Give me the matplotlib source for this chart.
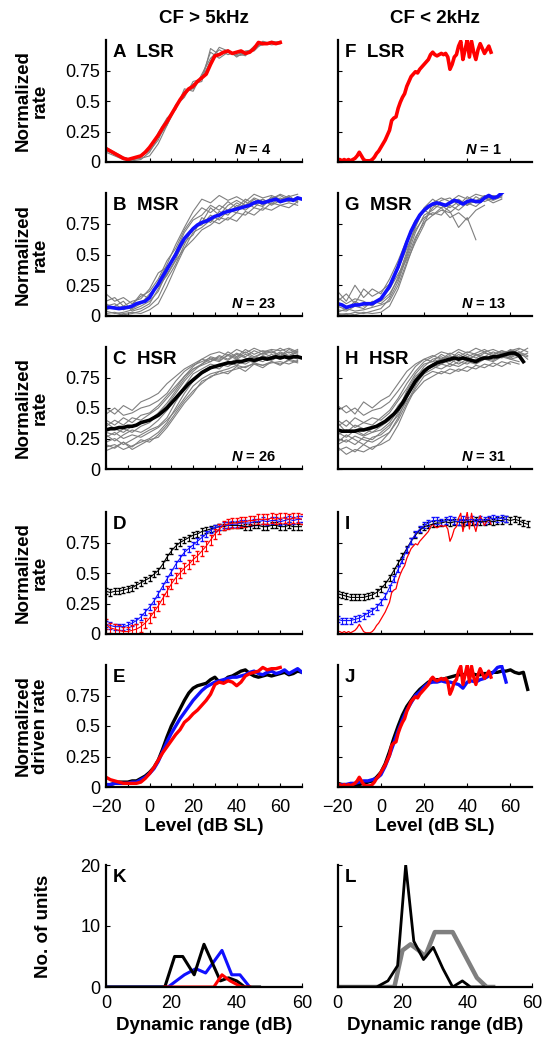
import matplotlib
matplotlib.use("Agg")
import matplotlib.pyplot as plt
import numpy as np

plt.rcParams['font.family'] = ['Liberation Sans', 'DejaVu Sans']
plt.rcParams['font.size'] = 13
plt.rcParams['mathtext.fontset'] = 'custom'
plt.rcParams['mathtext.it'] = 'Liberation Sans:italic:bold'
plt.rcParams['mathtext.rm'] = 'Liberation Sans:bold'

# level grids (dB SL)
MX = np.arange(-20, 71, 2)      # mean curves
GX = np.arange(-20, 69, 4)      # individual units (gray)
FX = np.arange(-20, 52, 1)      # single low-CF LSR unit

# ---- A: LSR, CF > 5 kHz
a_mean = [0.11, 0.09, 0.07, 0.05, 0.03, 0.02, 0.03, 0.04, 0.05, 0.08, 0.12, 0.17, 0.22, 0.28, 0.33,
          0.39, 0.45, 0.51, 0.56, 0.60, 0.62, 0.66, 0.69, 0.72, 0.80, 0.87, 0.88, 0.90, 0.91, 0.89,
          0.90, 0.91, 0.89, 0.90, 0.93, 0.98, 0.97, 0.97, 0.98, 0.97, 0.98]
a_units = [
    [0.08, 0.05, 0.02, 0.01, 0.02, 0.08, 0.20, 0.30, 0.44, 0.58, 0.60, 0.70, 0.90, 0.85, 0.90, 0.87, 0.88, 0.95, 0.97, 0.98, 0.97],
    [0.10, 0.06, 0.03, 0.02, 0.03, 0.05, 0.15, 0.30, 0.47, 0.55, 0.64, 0.66, 0.93, 0.88, 0.92, 0.86, 0.91, 0.92, 0.99, 0.97, 0.99],
    [0.12, 0.08, 0.04, 0.02, 0.04, 0.10, 0.24, 0.36, 0.43, 0.60, 0.58, 0.72, 0.85, 0.92, 0.88, 0.90, 0.87, 0.94, 0.96, 0.99, 0.98],
    [0.09, 0.07, 0.02, 0.03, 0.05, 0.09, 0.18, 0.34, 0.46, 0.53, 0.66, 0.68, 0.83, 0.94, 0.91, 0.88, 0.90, 0.91, 0.98, 0.96, 0.97],
]

# ---- B: MSR, CF > 5 kHz
b_mean = [0.07, 0.07, 0.065, 0.06, 0.065, 0.07, 0.08, 0.10, 0.11, 0.12, 0.15, 0.21, 0.26, 0.32, 0.38,
          0.44, 0.50, 0.57, 0.63, 0.67, 0.71, 0.74, 0.76, 0.77, 0.79, 0.81, 0.82, 0.84, 0.85, 0.86,
          0.87, 0.88, 0.89, 0.90, 0.92, 0.93, 0.92, 0.93, 0.94, 0.95, 0.93, 0.94, 0.95, 0.94, 0.96, 0.95]
b_units = [
    [.18, .12, .15, .10, .16, .20, .30, .45, .55, .70, .80, .88, .84, .90, .86, .92, .88, .95, .90, .97, .92, .96, .94],
    [.02, .03, .01, .02, .04, .08, .15, .30, .42, .58, .72, .74, .82, .78, .86, .84, .93, .88, .95, .91, .96, .93, .97],
    [.10, .06, .08, .12, .14, .22, .35, .40, .48, .60, .66, .80, .76, .85, .82, .90, .86, .92, .95, .90, .94, .98, .92],
    [.04, .02, .03, .05, .08, .12, .20, .36, .52, .68, .78, .82, .90, .86, .93, .88, .95, .91, .89, .96, .98, .94, .95],
    [.12, .15, .08, .06, .10, .18, .24, .33, .45, .55, .62, .70, .74, .80, .78, .84, .82, .88, .86, .92, .90, .88, .93],
    [.01, .00, .02, .03, .02, .05, .10, .24, .40, .55, .68, .72, .78, .75, .80, .77, .85, .82, .88, .86, .90, .92, .90],
    [.08, .10, .05, .09, .18, .14, .28, .42, .58, .72, .85, .95, .92, .98, .94, .97, .93, .99, .96, .98, .95, .97, .99],
    [.05, .08, .12, .04, .06, .10, .22, .34, .46, .62, .70, .76, .88, .82, .90, .94, .90, .96, .93, .95, .99, .96, .93],
]

# ---- C: HSR, CF > 5 kHz
c_mean = [0.32, 0.33, 0.33, 0.34, 0.34, 0.35, 0.35, 0.36, 0.38, 0.39, 0.40, 0.42, 0.44, 0.47, 0.50,
          0.54, 0.58, 0.62, 0.66, 0.70, 0.73, 0.76, 0.79, 0.81, 0.83, 0.84, 0.85, 0.86, 0.87, 0.87,
          0.88, 0.88, 0.89, 0.90, 0.89, 0.90, 0.91, 0.90, 0.91, 0.92, 0.91, 0.92, 0.91, 0.92, 0.92, 0.91]
c_units = [
    [.50, .45, .52, .48, .55, .58, .62, .70, .76, .82, .86, .90, .88, .93, .90, .95, .92, .97, .94, .96, .93, .98, .95],
    [.18, .20, .16, .19, .22, .25, .30, .38, .50, .62, .72, .80, .84, .82, .88, .85, .90, .87, .91, .89, .93, .90, .92],
    [.30, .28, .33, .30, .35, .38, .45, .52, .62, .72, .80, .86, .90, .88, .94, .91, .96, .92, .95, .97, .93, .96, .94],
    [.22, .25, .20, .24, .28, .32, .35, .42, .55, .66, .74, .78, .82, .86, .84, .88, .86, .90, .88, .92, .90, .93, .91],
    [.40, .36, .42, .38, .44, .46, .52, .60, .68, .76, .82, .85, .88, .92, .89, .94, .91, .88, .93, .90, .95, .92, .96],
    [.26, .30, .25, .28, .26, .30, .34, .40, .48, .58, .68, .74, .78, .80, .82, .85, .83, .87, .85, .88, .86, .89, .87],
    [.35, .40, .36, .42, .40, .45, .50, .58, .66, .76, .84, .90, .94, .96, .93, .98, .95, .99, .96, .98, .97, .99, .96],
    [.20, .17, .22, .18, .24, .22, .28, .36, .46, .56, .64, .70, .76, .78, .80, .82, .84, .86, .85, .87, .88, .86, .89],
    [.45, .50, .44, .46, .50, .52, .56, .62, .72, .80, .85, .88, .91, .89, .93, .90, .94, .91, .95, .92, .96, .93, .97],
    [.28, .23, .28, .32, .30, .34, .40, .48, .58, .68, .78, .82, .86, .84, .87, .90, .88, .92, .90, .94, .91, .93, .90],
    [.15, .18, .22, .16, .20, .24, .26, .34, .44, .54, .62, .72, .75, .80, .78, .84, .80, .86, .83, .88, .85, .90, .88],
    [.38, .33, .30, .35, .38, .40, .46, .54, .64, .74, .82, .86, .92, .90, .96, .92, .98, .94, .97, .95, .99, .95, .98],
]

# ---- D: means with error bars, CF > 5 kHz
d_hsr = [0.35, 0.34, 0.35, 0.35, 0.36, 0.37, 0.38, 0.40, 0.42, 0.44, 0.46, 0.49, 0.52, 0.57, 0.63,
         0.68, 0.72, 0.75, 0.77, 0.79, 0.81, 0.82, 0.84, 0.85, 0.86, 0.87, 0.88, 0.88, 0.89, 0.89,
         0.89, 0.89, 0.88, 0.88, 0.89, 0.89, 0.88, 0.88, 0.89, 0.89, 0.88, 0.88, 0.89, 0.88, 0.88, 0.88]
d_msr = [0.08, 0.07, 0.06, 0.06, 0.06, 0.07, 0.09, 0.11, 0.14, 0.18, 0.22, 0.27, 0.33, 0.39, 0.45,
         0.51, 0.57, 0.62, 0.67, 0.70, 0.73, 0.76, 0.79, 0.82, 0.85, 0.87, 0.88, 0.89, 0.89, 0.90,
         0.90, 0.91, 0.91, 0.91, 0.92, 0.92, 0.93, 0.92, 0.93, 0.93, 0.92, 0.93, 0.94, 0.93, 0.94, 0.94]
d_lsr = [0.08, 0.05, 0.04, 0.03, 0.02, 0.02, 0.03, 0.04, 0.06, 0.09, 0.13, 0.18, 0.23, 0.29, 0.35,
         0.41, 0.46, 0.50, 0.54, 0.57, 0.61, 0.64, 0.68, 0.72, 0.77, 0.82, 0.86, 0.89, 0.90, 0.91,
         0.91, 0.92, 0.92, 0.93, 0.93, 0.94, 0.94, 0.94, 0.95, 0.94, 0.95, 0.95, 0.94, 0.95, 0.95, 0.94]

# ---- E: normalized driven rate, CF > 5 kHz
e_hsr = [0.01, 0.02, 0.03, 0.04, 0.04, 0.04, 0.05, 0.05, 0.07, 0.09, 0.12, 0.16, 0.22, 0.31, 0.41,
         0.50, 0.57, 0.64, 0.71, 0.77, 0.81, 0.83, 0.84, 0.85, 0.88, 0.90, 0.86, 0.87, 0.90, 0.91,
         0.93, 0.95, 0.96, 0.93, 0.91, 0.90, 0.91, 0.92, 0.91, 0.92, 0.93, 0.94, 0.92, 0.93, 0.95, 0.94]
e_msr = [0.02, 0.02, 0.03, 0.03, 0.03, 0.03, 0.04, 0.04, 0.06, 0.08, 0.11, 0.15, 0.21, 0.29, 0.37,
         0.44, 0.50, 0.56, 0.61, 0.66, 0.71, 0.75, 0.79, 0.82, 0.84, 0.86, 0.87, 0.88, 0.89, 0.90,
         0.90, 0.91, 0.92, 0.94, 0.95, 0.93, 0.92, 0.94, 0.95, 0.93, 0.94, 0.96, 0.93, 0.95, 0.97, 0.94]
e_lsr = [0.08, 0.06, 0.05, 0.04, 0.03, 0.03, 0.03, 0.03, 0.04, 0.07, 0.11, 0.16, 0.22, 0.28, 0.33,
         0.38, 0.43, 0.47, 0.53, 0.56, 0.60, 0.63, 0.67, 0.71, 0.76, 0.84, 0.86, 0.85, 0.87, 0.86,
         0.83, 0.86, 0.91, 0.93, 0.94, 0.95, 0.98, 0.96, 0.97, 0.97, 0.98]

# ---- F: LSR, CF < 2 kHz (single unit)
f_lsr = [0.02, 0.02, 0.01, 0.02, 0.01, 0.02, 0.01, 0.02, 0.03, 0.05, 0.08, 0.05, 0.02, 0.01, 0.01,
         0.01, 0.02, 0.04, 0.07, 0.09, 0.12, 0.15, 0.18, 0.22, 0.26, 0.34, 0.36, 0.37, 0.44, 0.49,
         0.53, 0.56, 0.62, 0.66, 0.70, 0.72, 0.74, 0.73, 0.76, 0.78, 0.80, 0.82, 0.84, 0.88, 0.90,
         0.88, 0.87, 0.88, 0.89, 0.88, 0.89, 0.86, 0.76, 0.80, 0.86, 0.88, 0.95, 0.99, 0.84, 0.92,
         1.00, 0.86, 0.99, 0.90, 0.84, 0.92, 0.97, 0.93, 0.89, 0.92, 0.95, 0.90]

# ---- G: MSR, CF < 2 kHz
g_mean = [0.10, 0.09, 0.07, 0.08, 0.09, 0.09, 0.10, 0.10, 0.10, 0.12, 0.14, 0.19, 0.24, 0.32, 0.40,
          0.50, 0.60, 0.69, 0.76, 0.82, 0.86, 0.89, 0.91, 0.92, 0.91, 0.90, 0.92, 0.94, 0.93, 0.91,
          0.93, 0.94, 0.93, 0.93, 0.96, 0.98, 0.96, 0.97, 1.00]
g_units = [
    [.20, .12, .25, .15, .22, .18, .30, .45, .62, .78, .85, .90, .88, .92, .95, .90, .97, .93, .96, .98],
    [.02, .01, .03, .02, .04, .06, .14, .28, .48, .68, .82, .86, .92, .88, .93, .90, .94, .96, .92, .95],
    [.08, .05, .12, .08, .10, .12, .18, .30, .50, .72, .88, .95, .90, .85, .72, .80, .62],
    [.12, .18, .10, .22, .16, .20, .26, .38, .55, .70, .80, .84, .82, .90, .86, .92, .89, .95, .98, .96],
    [.01, .02, .01, .03, .02, .03, .08, .22, .42, .62, .78, .88, .94, .96, .90, .97, .93, .98, .95, .99],
    [.05, .04, .08, .06, .12, .10, .16, .32, .52, .74, .86, .82, .88, .80, .84, .78, .86, .90],
    [.15, .10, .14, .12, .08, .15, .22, .34, .46, .64, .76, .82, .86, .84, .90, .94, .92, .96, .94, .97],
    [.03, .06, .04, .05, .07, .09, .12, .25, .44, .60, .74, .92, .96, .93, .98, .95, .99, .97, .95, .98],
]

# ---- H: HSR, CF < 2 kHz
h_mean = [0.32, 0.31, 0.31, 0.31, 0.31, 0.32, 0.32, 0.33, 0.34, 0.35, 0.37, 0.39, 0.42, 0.45, 0.49,
          0.54, 0.60, 0.66, 0.72, 0.76, 0.80, 0.83, 0.85, 0.87, 0.88, 0.89, 0.90, 0.91, 0.90, 0.91,
          0.90, 0.89, 0.88, 0.90, 0.91, 0.91, 0.92, 0.92, 0.93, 0.94, 0.95, 0.95, 0.93, 0.88]
h_units = [
    [.48, .52, .45, .55, .50, .56, .60, .70, .80, .86, .90, .88, .94, .90, .96, .92, .95, .98, .94, .97, .93, .96, .90],
    [.15, .18, .14, .20, .16, .22, .30, .42, .58, .72, .80, .84, .82, .86, .84, .88, .86, .90, .88, .92, .90, .88],
    [.30, .26, .32, .28, .33, .36, .42, .50, .62, .74, .84, .90, .92, .88, .94, .90, .93, .96, .92, .95, .97, .94, .92],
    [.22, .28, .24, .20, .26, .28, .34, .46, .60, .70, .78, .82, .86, .84, .88, .86, .90, .92, .89, .93, .91, .95],
    [.40, .35, .42, .38, .36, .42, .48, .58, .70, .80, .88, .92, .96, .94, .98, .95, .99, .96, .98, .95, .97, .99, .96],
    [.18, .12, .16, .14, .18, .20, .24, .36, .52, .66, .76, .80, .78, .82, .80, .84, .82, .86, .84, .88, .86],
    [.35, .40, .34, .38, .42, .40, .46, .56, .66, .78, .86, .88, .90, .93, .89, .92, .88, .90, .93, .91, .94, .92, .95],
    [.25, .22, .27, .24, .22, .26, .30, .40, .54, .68, .80, .86, .88, .92, .90, .94, .91, .95, .93, .97, .95, .98],
    [.52, .46, .50, .44, .48, .50, .55, .64, .74, .84, .90, .93, .90, .95, .92, .96, .94, .92, .96, .93, .98, .95, .99],
    [.20, .24, .20, .26, .24, .30, .36, .44, .56, .64, .72, .76, .80, .78, .82, .80, .85, .83, .87, .84, .88, .86],
    [.28, .32, .30, .27, .30, .32, .38, .48, .64, .76, .82, .86, .90, .86, .92, .88, .94, .90, .92, .95, .92, .96, .93],
    [.38, .30, .36, .33, .30, .35, .40, .52, .60, .70, .80, .84, .86, .90, .86, .90, .88, .92, .90, .94, .90, .92],
]

# ---- I: means with error bars, CF < 2 kHz
i_hsr = [0.33, 0.32, 0.31, 0.30, 0.30, 0.30, 0.30, 0.31, 0.32, 0.34, 0.37, 0.41, 0.46, 0.52, 0.58,
         0.64, 0.70, 0.76, 0.81, 0.85, 0.88, 0.89, 0.90, 0.91, 0.91, 0.92, 0.91, 0.92, 0.92, 0.91,
         0.92, 0.92, 0.93, 0.92, 0.92, 0.93, 0.92, 0.93, 0.93, 0.94, 0.93, 0.94, 0.93, 0.91, 0.90]
i_msr = [0.12, 0.11, 0.11, 0.11, 0.12, 0.13, 0.15, 0.17, 0.19, 0.22, 0.26, 0.31, 0.38, 0.45, 0.53,
         0.61, 0.69, 0.76, 0.82, 0.86, 0.89, 0.91, 0.93, 0.93, 0.92, 0.93, 0.94, 0.93, 0.92, 0.94,
         0.93, 0.94, 0.92, 0.94, 0.93, 0.94, 0.95, 0.94, 0.95, 0.94]

# ---- J: normalized driven rate, CF < 2 kHz
j_hsr = [0.03, 0.02, 0.02, 0.02, 0.01, 0.02, 0.03, 0.04, 0.05, 0.08, 0.12, 0.19, 0.29, 0.40, 0.50,
         0.59, 0.66, 0.71, 0.76, 0.80, 0.83, 0.86, 0.87, 0.88, 0.88, 0.89, 0.90, 0.91, 0.92, 0.92,
         0.93, 0.93, 0.92, 0.92, 0.93, 0.93, 0.94, 0.94, 0.95, 0.95, 0.96, 0.94, 0.93, 0.94, 0.80]
j_msr = [0.01, 0.02, 0.02, 0.03, 0.03, 0.04, 0.05, 0.05, 0.06, 0.07, 0.10, 0.17, 0.26, 0.36, 0.46,
         0.55, 0.63, 0.69, 0.75, 0.78, 0.82, 0.85, 0.86, 0.86, 0.87, 0.86, 0.86, 0.85, 0.84, 0.81,
         0.86, 0.87, 0.86, 0.88, 0.89, 0.91, 0.94, 0.98, 0.99, 0.86]

# ---- K, L: dynamic range histograms
k_range_hsr = [0, 18, 21, 23.5, 27, 30, 32.5, 35, 37.5, 40, 42.5, 47]
k_count_hsr = [0, 0, 5, 5, 2, 7, 4, 1, 1.5, 1, 0, 0]
k_range_msr = [0, 19, 24, 27.5, 30.5, 35.5, 38.5, 41, 44]
k_count_msr = [0, 0, 2, 3, 2.3, 6, 2, 2, 0]
k_range_lsr = [18, 33, 35.5, 38, 41.5, 44]
k_count_lsr = [0, 0, 2, 1, 0, 0]

l_range_hsr = [0, 12, 15.5, 18.5, 21, 23.5, 26.5, 29.5, 32.5, 35.5, 38.5, 41, 45]
l_count_hsr = [0, 0, 1, 3.5, 20, 7.5, 4.5, 6.5, 3, 0, 1, 0, 0]
l_range_all = [0, 17.5, 20, 22.5, 25, 27, 30, 35.5, 38.5, 43, 46, 48]
l_count_all = [0, 0, 6, 7, 6, 5, 9, 9, 6, 1.5, 0, 0]

RED = '#ff0000'
BLUE = '#1010ff'
GRAY = '#7f7f7f'

fig = plt.figure(figsize=(5.49, 10.49), dpi=100)
W, H = 549.0, 1049.0
cols = [(106, 302), (337.7, 532)]
rows = [(40, 162), (193, 316), (347, 469), (512, 634), (665, 787), (865, 987)]


def make_ax(r, c):
    x0, x1 = cols[c]
    t, b = rows[r]
    ax = fig.add_axes([x0 / W, 1 - b / H, (x1 - x0) / W, (b - t) / H])
    for s in ['top', 'right']:
        ax.spines[s].set_visible(False)
    for s in ['left', 'bottom']:
        ax.spines[s].set_linewidth(1.6)
    ax.tick_params(direction='in', length=3, width=0.8, labelsize=13, pad=4)
    ax.tick_params(axis='x', pad=6)
    ax.tick_params(which='minor', direction='in', length=3, width=0.8)
    return ax


def level_axes(ax, c, show_x):
    ax.set_xlim(-20, 70)
    ax.set_ylim(0, 1)
    ax.set_yticks([0, 0.25, 0.5, 0.75])
    if c == 0:
        ax.set_yticklabels(['0', '0.25', '0.5', '0.75'])
        ax.set_xticks([-20, 0, 20, 40, 60])
        ax.set_xticks([-10, 10, 30, 50, 70], minor=True)
    else:
        ax.set_yticklabels([])
        ax.set_xticks([-20, 0, 20, 40, 60])
    if show_x:
        ax.set_xticklabels(['\u221220', '0', '20', '40', '60'])
        ax.tick_params(axis='x', pad=9)
        ax.set_xlabel('Level (dB SL)', fontweight='bold', fontsize=13.5, labelpad=1)
    else:
        ax.set_xticklabels([])


def ylab(ax, text, xpos=-0.38):
    ax.set_ylabel(text, fontweight='bold', fontsize=13.5, linespacing=1.0, va='center')
    ax.yaxis.set_label_coords(xpos, 0.5)


def tag(ax, text):
    ax.text(0.035, 0.9, text, transform=ax.transAxes, fontweight='bold',
            fontsize=13.5, va='center', ha='left')


def ntext(ax, n):
    ax.text(0.75, 0.1, r'$N$ = %d' % n, transform=ax.transAxes, fontweight='bold',
            fontsize=10.5, va='center', ha='center')


def units(ax, ys):
    for y in ys:
        ax.plot(GX[:len(y)], y, color=GRAY, lw=0.8)


# row 1: LSR
ax = make_ax(0, 0)
units(ax, a_units)
ax.plot(MX[:len(a_mean)], a_mean, color=RED, lw=2.6)
level_axes(ax, 0, False)
tag(ax, 'A  LSR')
ntext(ax, 4)
ylab(ax, 'Normalized\nrate')
ax.set_title('CF > 5kHz', fontweight='bold', fontsize=13.5, pad=12)

ax = make_ax(0, 1)
ax.plot(FX, f_lsr, color=GRAY, lw=0.8)
ax.plot(FX, f_lsr, color=RED, lw=2.6)
level_axes(ax, 1, False)
tag(ax, 'F  LSR')
ntext(ax, 1)
ax.set_title('CF < 2kHz', fontweight='bold', fontsize=13.5, pad=12)

# row 2: MSR
ax = make_ax(1, 0)
units(ax, b_units)
ax.plot(MX[:len(b_mean)], b_mean, color=BLUE, lw=2.6)
level_axes(ax, 0, False)
tag(ax, 'B  MSR')
ntext(ax, 23)
ylab(ax, 'Normalized\nrate')

ax = make_ax(1, 1)
units(ax, g_units)
ax.plot(MX[:len(g_mean)], g_mean, color=BLUE, lw=2.6)
level_axes(ax, 1, False)
tag(ax, 'G  MSR')
ntext(ax, 13)

# row 3: HSR
ax = make_ax(2, 0)
units(ax, c_units)
ax.plot(MX[:len(c_mean)], c_mean, color='black', lw=2.6)
level_axes(ax, 0, False)
tag(ax, 'C  HSR')
ntext(ax, 26)
ylab(ax, 'Normalized\nrate')

ax = make_ax(2, 1)
units(ax, h_units)
ax.plot(MX[:len(h_mean)], h_mean, color='black', lw=2.6)
level_axes(ax, 1, False)
tag(ax, 'H  HSR')
ntext(ax, 31)

# row 4: means with error bars
ax = make_ax(3, 0)
ax.errorbar(MX[:len(d_hsr)], d_hsr, yerr=0.025, color='black', lw=0.8, elinewidth=0.8, capsize=1.5)
ax.errorbar(MX[:len(d_msr)], d_msr, yerr=0.025, color=BLUE, lw=0.8, elinewidth=0.8, capsize=1.5)
ax.errorbar(MX[:len(d_lsr)], d_lsr, yerr=0.04, color=RED, lw=0.8, elinewidth=0.8, capsize=1.5)
level_axes(ax, 0, False)
tag(ax, 'D')
ylab(ax, 'Normalized\nrate')

ax = make_ax(3, 1)
ax.errorbar(MX[:len(i_hsr)], i_hsr, yerr=0.025, color='black', lw=0.8, elinewidth=0.8, capsize=1.5)
ax.errorbar(MX[:len(i_msr)], i_msr, yerr=0.025, color=BLUE, lw=0.8, elinewidth=0.8, capsize=1.5)
ax.plot(FX, f_lsr, color=RED, lw=0.9)
level_axes(ax, 1, False)
tag(ax, 'I')

# row 5: driven rate
ax = make_ax(4, 0)
ax.plot(MX[:len(e_hsr)], e_hsr, color='black', lw=2.4)
ax.plot(MX[:len(e_msr)], e_msr, color=BLUE, lw=2.4)
ax.plot(MX[:len(e_lsr)], e_lsr, color=RED, lw=2.4)
level_axes(ax, 0, True)
tag(ax, 'E')
ylab(ax, 'Normalized\ndriven rate')

ax = make_ax(4, 1)
ax.plot(MX[:len(j_hsr)], j_hsr, color='black', lw=2.4)
ax.plot(MX[:len(j_msr)], j_msr, color=BLUE, lw=2.4)
ax.plot(FX, f_lsr, color=RED, lw=2.4)
level_axes(ax, 1, True)
tag(ax, 'J')

# row 6: dynamic range histograms
ax = make_ax(5, 0)
ax.plot(k_range_msr, k_count_msr, color=BLUE, lw=2.2)
ax.plot(k_range_hsr, k_count_hsr, color='black', lw=2.2)
ax.plot(k_range_lsr, k_count_lsr, color=RED, lw=2.2)
ax.set_xlim(0, 60)
ax.set_ylim(0, 20)
ax.set_xticks([0, 20, 40, 60])
ax.set_yticks([0, 10, 20])
ax.set_xlabel('Dynamic range (dB)', fontweight='bold', fontsize=13.5, labelpad=3)
ylab(ax, 'No. of units', -0.32)
tag(ax, 'K')

ax = make_ax(5, 1)
ax.plot(l_range_all, l_count_all, color=GRAY, lw=3.2)
ax.plot(l_range_hsr, l_count_hsr, color='black', lw=2.0)
ax.set_xlim(0, 60)
ax.set_ylim(0, 20)
ax.set_xticks([0, 20, 40, 60])
ax.set_yticks([0, 10, 20])
ax.set_yticklabels([])
ax.set_xlabel('Dynamic range (dB)', fontweight='bold', fontsize=13.5, labelpad=3)
tag(ax, 'L')

fig.savefig('out.png', dpi=100)
